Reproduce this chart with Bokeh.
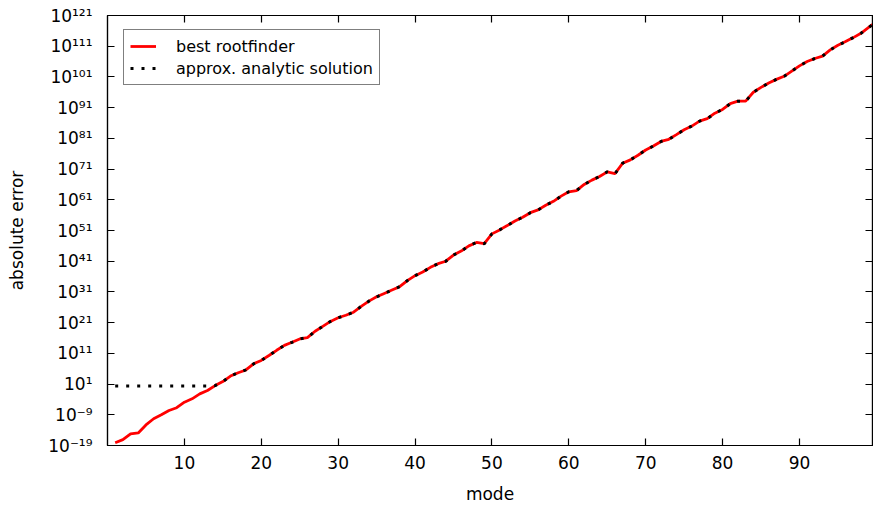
from bokeh.plotting import figure
from bokeh.models import (Range1d, FixedTicker, LinearAxis, LogAxis,
                          CustomJSTickFormatter, Legend, LegendItem)
from bokeh.embed import file_html
from bokeh.resources import INLINE
import numpy as np

# ---------------- data (log10 of absolute error) ----------------
modes = list(range(1, 101))
best_log10 = [
    -18.1, -17.1, -15.2, -14.9, -12.3, -10.3, -9.0, -7.6, -6.7, -4.9,
    -3.8, -2.2, -1.1, 0.5, 1.8, 3.6, 4.7, 5.6, 7.6, 8.7,
    10.3, 12.0, 13.6, 14.6, 15.7, 16.1, 18.2, 19.8, 21.4, 22.6,
    23.4, 24.4, 26.3, 28.0, 29.4, 30.5, 31.6, 32.7, 34.7, 36.3,
    37.5, 39.0, 40.2, 41.0, 43.0, 44.3, 46.0, 47.1, 46.7, 49.9,
    51.2, 52.6, 54.1, 55.3, 56.8, 57.7, 59.2, 60.5, 62.2, 63.6,
    64.0, 66.0, 67.4, 68.6, 70.1, 69.5, 72.9, 74.0, 75.5, 77.2,
    78.5, 80.0, 80.7, 82.2, 83.8, 85.0, 86.6, 87.4, 89.2, 90.4,
    92.3, 93.1, 93.1, 96.0, 97.6, 99.0, 100.2, 101.2, 102.9, 104.6,
    106.0, 107.0, 107.8, 109.8, 111.3, 112.5, 113.8, 115.2, 117.1, 119.0,
]
approx_log10 = [
    0.4, 0.4, 0.4, 0.4, 0.4, 0.4, 0.4, 0.4, 0.4, 0.4,
    0.4, 0.4, 0.4, 0.5, 1.8, 3.6, 4.7, 5.6, 7.6, 8.7,
    10.3, 12.0, 13.6, 14.6, 15.7, 16.1, 18.2, 19.8, 21.4, 22.6,
    23.4, 24.4, 26.3, 28.0, 29.4, 30.5, 31.6, 32.7, 34.7, 36.3,
    37.5, 39.0, 40.2, 41.0, 43.0, 44.3, 46.0, 47.1, 46.7, 49.9,
    51.2, 52.6, 54.1, 55.3, 56.8, 57.7, 59.2, 60.5, 62.2, 63.6,
    64.0, 66.0, 67.4, 68.6, 70.1, 69.5, 72.9, 74.0, 75.5, 77.2,
    78.5, 80.0, 80.7, 82.2, 83.8, 85.0, 86.6, 87.4, 89.2, 90.4,
    92.3, 93.1, 93.1, 96.0, 97.6, 99.0, 100.2, 101.2, 102.9, 104.6,
    106.0, 107.0, 107.8, 109.8, 111.3, 112.5, 113.8, 115.2, 117.1, 119.0,
]
x_ticks = [10, 20, 30, 40, 50, 60, 70, 80, 90]
y_tick_exps = [-19, -9, 1, 11, 21, 31, 41, 51, 61, 71, 81, 91, 101, 111, 121]
y_tick_labels = ["10⁻¹⁹", "10⁻⁹", "10¹", "10¹¹", "10²¹", "10³¹", "10⁴¹",
                 "10⁵¹", "10⁶¹", "10⁷¹", "10⁸¹", "10⁹¹", "10¹⁰¹", "10¹¹¹",
                 "10¹²¹"]

best = np.power(10.0, np.array(best_log10))
approx = np.power(10.0, np.array(approx_log10))
y_ticks = [10.0 ** e for e in y_tick_exps]

FONT = "DejaVu Sans"

p = figure(width=873, height=509, output_backend="svg", toolbar_location=None,
           y_axis_type="log",
           x_range=Range1d(0, 99.5), y_range=Range1d(1e-19, 1e121),
           min_border_left=107, min_border_right=1,
           min_border_top=15, min_border_bottom=64)
p.background_fill_color = "white"
p.border_fill_color = "white"
p.outline_line_color = "black"
p.outline_line_width = 1.2
p.xgrid.visible = False
p.ygrid.visible = False

r1 = p.line(modes, best, line_color="red", line_width=2.8)
r2 = p.line(modes, approx, line_color="black", line_width=3, line_dash="3 8")

fmt = CustomJSTickFormatter(args=dict(exps=y_tick_exps, labels=y_tick_labels), code="""
const e = Math.round(Math.log10(tick));
const i = exps.indexOf(e);
return i >= 0 ? labels[i] : "";
""")
blank = CustomJSTickFormatter(code="return '';")

xt = FixedTicker(ticks=x_ticks)
yt = FixedTicker(ticks=y_ticks)

def style_axis(ax):
    ax.axis_line_color = "black"
    ax.axis_line_width = 1.2
    ax.major_tick_line_color = "black"
    ax.major_tick_line_width = 1.2
    ax.major_tick_in = 7
    ax.major_tick_out = 0
    ax.minor_tick_line_color = None
    ax.major_label_text_font = FONT
    ax.major_label_text_font_size = "17px"
    ax.major_label_text_color = "black"
    ax.axis_label_text_font = FONT
    ax.axis_label_text_font_size = "17px"
    ax.axis_label_text_font_style = "normal"
    ax.axis_label_text_color = "black"

xa = p.xaxis[0]
xa.ticker = xt
style_axis(xa)
xa.axis_label = "mode"
xa.major_label_standoff = 10
xa.axis_label_standoff = 12

ya = p.yaxis[0]
ya.ticker = yt
ya.formatter = fmt
style_axis(ya)
ya.axis_label = "absolute error"
ya.major_label_standoff = 15
ya.axis_label_standoff = 18

top = LinearAxis(ticker=xt, formatter=blank)
style_axis(top)
top.major_label_text_color = None
top.major_label_standoff = 0
p.add_layout(top, "above")

right = LogAxis(ticker=yt, formatter=blank)
style_axis(right)
right.major_label_text_color = None
right.major_label_standoff = 0
p.add_layout(right, "right")

legend = Legend(items=[LegendItem(label="best rootfinder", renderers=[r1]),
                       LegendItem(label="approx. analytic solution", renderers=[r2])],
                location=(16, 360))
legend.label_text_font = FONT
legend.label_text_font_size = "16px"
legend.label_text_color = "black"
legend.border_line_color = "black"
legend.border_line_width = 1
legend.background_fill_color = "white"
legend.background_fill_alpha = 1
legend.padding = 6
legend.spacing = 2
legend.margin = 0
legend.label_height = 20
legend.glyph_height = 20
legend.glyph_width = 26
legend.label_standoff = 20
p.add_layout(legend)

open("out.html", "w").write(file_html(p, INLINE))
